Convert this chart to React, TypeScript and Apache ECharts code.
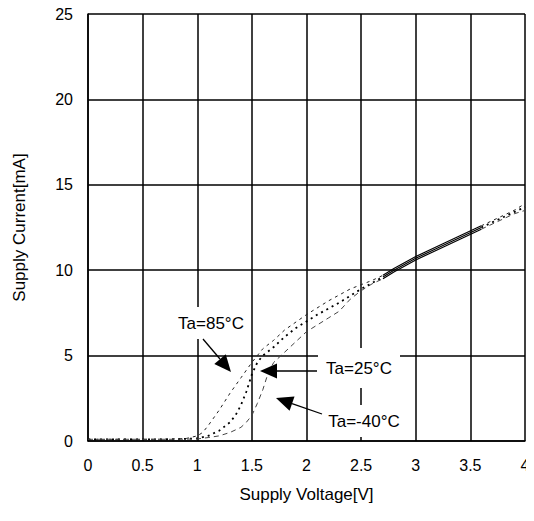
import React, { useEffect, useRef } from "react";
import * as echarts from "echarts";

// Supply voltage [V] / supply current [mA] for each ambient temperature
const v85 = [0, 0.2, 0.4, 0.6, 0.8, 0.9, 1.0, 1.05, 1.1, 1.2, 1.3, 1.4, 1.5, 1.6, 1.7, 1.8, 2.0, 2.2, 2.4, 2.6, 2.7, 2.8, 3.0, 3.2, 3.4, 3.6, 3.7, 3.8, 3.9, 4.0];
const i85 = [0.1, 0.1, 0.1, 0.1, 0.12, 0.15, 0.3, 0.5, 0.9, 1.8, 2.8, 3.7, 4.6, 5.4, 5.9, 6.5, 7.4, 8.2, 8.9, 9.4, 9.7, 10.1, 10.8, 11.4, 12.0, 12.6, 12.9, 13.2, 13.5, 13.9];

const v25 = [0, 0.2, 0.4, 0.6, 0.8, 1.0, 1.1, 1.2, 1.3, 1.35, 1.4, 1.45, 1.5, 1.55, 1.6, 1.7, 1.8, 1.9, 2.1, 2.3, 2.5, 2.7, 2.8, 3.0, 3.2, 3.4, 3.6, 3.7, 3.8, 3.9, 4.0];
const i25 = [0.1, 0.1, 0.1, 0.1, 0.1, 0.15, 0.3, 0.6, 1.1, 1.5, 2.1, 2.9, 3.9, 4.6, 5.0, 5.5, 6.1, 6.6, 7.4, 8.1, 8.9, 9.6, 10.0, 10.7, 11.3, 11.9, 12.5, 12.8, 13.1, 13.4, 13.7];

const vm40 = [0, 0.2, 0.4, 0.6, 0.8, 1.0, 1.1, 1.2, 1.3, 1.4, 1.45, 1.5, 1.55, 1.6, 1.65, 1.7, 1.8, 1.9, 2.0, 2.1, 2.2, 2.3, 2.4, 2.5, 2.6, 2.7, 2.8, 3.0, 3.2, 3.4, 3.6, 3.7, 3.8, 3.9, 4.0];
const im40 = [0.1, 0.1, 0.1, 0.1, 0.1, 0.12, 0.2, 0.3, 0.5, 0.8, 1.1, 1.5, 2.2, 3.0, 4.0, 4.6, 5.2, 5.8, 6.4, 6.8, 7.2, 7.6, 8.3, 8.8, 9.2, 9.5, 9.9, 10.6, 11.2, 11.8, 12.4, 12.7, 13.0, 13.3, 13.5];

const SOLID_FROM = 2.7;
const SOLID_TO = 3.6;

const FONT = "'Liberation Sans', Arial, sans-serif";

function seg(vs: number[], is: number[], lo: number, hi: number) {
  const out: number[][] = [];
  vs.forEach((v, k) => {
    if (v >= lo - 1e-9 && v <= hi + 1e-9) out.push([v, is[k]]);
  });
  return out;
}

function curveSeries(name: string, vs: number[], is: number[], dashStyle: any) {
  const base = { type: "line", symbol: "none", silent: true, z: 3 } as any;
  return [
    { ...base, name: name + "-a", data: seg(vs, is, 0, SOLID_FROM), lineStyle: dashStyle },
    { ...base, name: name + "-b", data: seg(vs, is, SOLID_FROM, SOLID_TO), lineStyle: { color: "#000", width: 1.2, type: "solid" } },
    { ...base, name: name + "-c", data: seg(vs, is, SOLID_TO, 4), lineStyle: dashStyle },
  ];
}

function arrow(sx: number, sy: number, tx: number, ty: number, len = 17, half = 7.5) {
  const dx = tx - sx;
  const dy = ty - sy;
  const d = Math.sqrt(dx * dx + dy * dy);
  const ux = dx / d;
  const uy = dy / d;
  const bx = tx - ux * len;
  const by = ty - uy * len;
  const nx = -uy;
  const ny = ux;
  return [
    { type: "line", shape: { x1: sx, y1: sy, x2: bx, y2: by }, style: { stroke: "#000", lineWidth: 1.3 }, z: 20 },
    {
      type: "polygon",
      shape: { points: [[tx, ty], [bx + nx * half, by + ny * half], [bx - nx * half, by - ny * half]] },
      style: { fill: "#000" },
      z: 20,
    },
  ];
}

function label(text: string, cx: number, cy: number, bw: number, bh: number) {
  return [
    { type: "rect", shape: { x: cx - bw / 2, y: cy - bh / 2, width: bw, height: bh }, style: { fill: "#fff" }, z: 10 },
    {
      type: "text",
      x: cx,
      y: cy,
      style: { text, fill: "#000", font: `17px ${FONT}`, align: "center", verticalAlign: "middle" },
      z: 11,
    },
  ];
}

export default function App() {
  const ref = useRef<HTMLDivElement>(null);
  useEffect(() => {
    if (!ref.current) return;
    const chart = echarts.init(ref.current, null, { renderer: "svg" });
    const tickText = { color: "#000", fontSize: 16, fontFamily: FONT };
    const nameText = { color: "#000", fontSize: 17, fontFamily: FONT };
    chart.setOption({
      animation: false,
      backgroundColor: "#fff",
      grid: { left: 88, right: 9, top: 14, bottom: 80, containLabel: false },
      xAxis: {
        type: "value",
        min: 0,
        max: 4,
        interval: 0.5,
        name: "Supply Voltage[V]",
        nameLocation: "middle",
        nameGap: 45,
        nameTextStyle: nameText,
        axisLine: { show: true, onZero: false, lineStyle: { color: "#000", width: 1.5 } },
        axisTick: { show: false },
        axisLabel: { ...tickText, margin: 16 },
        splitLine: { show: true, lineStyle: { color: "#000", width: 1.5 } },
      },
      yAxis: {
        type: "value",
        min: 0,
        max: 25,
        interval: 5,
        name: "Supply Current[mA]",
        nameLocation: "middle",
        nameGap: 60,
        nameTextStyle: nameText,
        axisLine: { show: true, onZero: false, lineStyle: { color: "#000", width: 1.5 } },
        axisTick: { show: false },
        axisLabel: { ...tickText, margin: 15 },
        splitLine: { show: true, lineStyle: { color: "#000", width: 1.5 } },
      },
      series: [
        ...curveSeries("Ta=85°C", v85, i85, { color: "#222", width: 1, type: [3, 4] }),
        ...curveSeries("Ta=25°C", v25, i25, { color: "#000", width: 1.8, type: [2, 4] }),
        ...curveSeries("Ta=-40°C", vm40, im40, { color: "#444", width: 1, type: [5, 4] }),
      ],
      graphic: [
        ...label("Ta=85°C", 211, 323, 70, 32),
        ...label("Ta=25°C", 359, 368, 82, 40),
        ...label("Ta=-40°C", 364, 421, 84, 32),
        ...arrow(203, 339, 231, 372),
        ...arrow(317, 371, 260, 371),
        ...arrow(322, 414, 276, 398),
      ],
    });
    return () => chart.dispose();
  }, []);
  return <div ref={ref} style={{ width: 534, height: 521, margin: -8 }} />;
}
